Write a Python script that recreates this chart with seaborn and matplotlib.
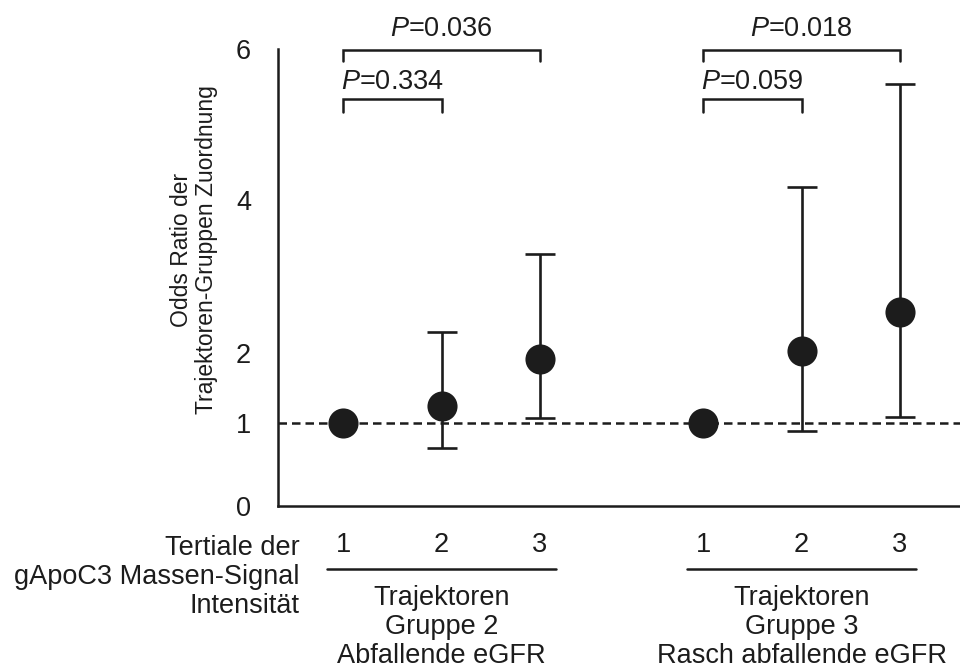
import numpy as np
import pandas as pd
import matplotlib
matplotlib.use("Agg")
import matplotlib.pyplot as plt
import matplotlib.transforms as mtransforms
import seaborn as sns

# Odds ratios (95% CI) of trajectory-group membership per tertile of gApoC3 mass signal
tertiles = ["1", "2", "3"]
group_labels = ["Trajektoren\nGruppe 2\nAbfallende eGFR",
                "Trajektoren\nGruppe 3\nRasch abfallende eGFR"]
or_g2 = [1.0, 1.25, 1.92]
lo_g2 = [np.nan, 0.70, 1.07]
hi_g2 = [np.nan, 2.28, 3.29]
or_g3 = [1.0, 2.03, 2.54]
lo_g3 = [np.nan, 0.90, 1.09]
hi_g3 = [np.nan, 4.17, 5.54]
# p-values: tertile 2 vs 1, tertile 3 vs 1
p_g2 = ["0.334", "0.036"]
p_g3 = ["0.059", "0.018"]
y_ticks = [0, 1, 2, 4, 6]

ink = "#1c1c1c"
fs = 19.5

sns.set_style("white")
plt.rcParams["font.family"] = ["Liberation Sans", "DejaVu Sans"]
plt.rcParams["mathtext.fontset"] = "custom"
plt.rcParams["mathtext.rm"] = "Liberation Sans"
plt.rcParams["mathtext.it"] = "Liberation Sans:italic"
plt.rcParams["text.color"] = ink

# piecewise-linear vertical axis (0-1 segment stretched)
kv = np.array([0, 1, 2, 4, 6], float)
kp = np.array([0, 83, 153, 306, 457], float)


def _pw(v, a, b):
    v = np.asarray(v, float)
    out = np.interp(v, a, b)
    s_hi = (b[-1] - b[-2]) / (a[-1] - a[-2])
    s_lo = (b[1] - b[0]) / (a[1] - a[0])
    out = np.where(v > a[-1], b[-1] + (v - a[-1]) * s_hi, out)
    out = np.where(v < a[0], b[0] + (v - a[0]) * s_lo, out)
    return out


def fwd(v):
    return _pw(v, kv, kp)


def inv(p):
    return _pw(p, kp, kv)


fig = plt.figure(figsize=(9.6, 6.69), dpi=100)
ax = fig.add_axes([278 / 960, (669 - 506) / 669, 682 / 960, 457 / 669])

offsets = [0.0, 3.655]
rows = []
for g, (off, ors, los, his) in enumerate(zip(offsets, [or_g2, or_g3], [lo_g2, lo_g3], [hi_g2, hi_g3])):
    for i, t in enumerate(tertiles):
        rows.append({"group": g, "tertile": t, "x": off + i,
                     "OR": ors[i], "lo": los[i], "hi": his[i]})
df = pd.DataFrame(rows)

ax.set_yscale("function", functions=(fwd, inv))
ax.set_ylim(0, 6)
ax.set_xlim(-0.66, 6.264)

ax.axhline(1, color=ink, lw=1.8, ls=(0, (3.4, 2.0)), zorder=1)

ci = df.dropna(subset=["lo", "hi"])
ax.errorbar(ci["x"], ci["OR"], yerr=[ci["OR"] - ci["lo"], ci["hi"] - ci["OR"]],
            fmt="none", ecolor=ink, elinewidth=1.9, capsize=11, capthick=1.9, zorder=2)
sns.scatterplot(data=df, x="x", y="OR", s=470, color=ink, edgecolor=ink,
                linewidth=0, zorder=4, legend=False, ax=ax)

ax.set_yticks(y_ticks)
ax.set_yticklabels([str(t) for t in y_ticks])
ax.set_xticks(df["x"])
ax.set_xticklabels(df["tertile"])
ax.set_xlabel("")
ax.set_ylabel("")
ax.tick_params(axis="y", length=11.5, width=1.7, pad=8, labelsize=fs, colors=ink)
ax.tick_params(axis="x", length=0, pad=18.5, labelsize=fs, colors=ink)

for side in ["top", "right"]:
    ax.spines[side].set_visible(False)
for side in ["left", "bottom"]:
    ax.spines[side].set_linewidth(1.8)
    ax.spines[side].set_color(ink)
ax.spines["left"].set_bounds(0, 6)

trans = mtransforms.blended_transform_factory(ax.transData, ax.transAxes)

# significance brackets
for off, pv in zip(offsets, [p_g2, p_g3]):
    for (x1, yt, yd, yl, p) in [(off + 1, 0.890, 0.863, 0.928, pv[0]),
                                (off + 2, 0.998, 0.974, 1.044, pv[1])]:
        ax.plot([off, off, x1, x1], [yd, yt, yt, yd], color=ink, lw=1.8,
                transform=trans, clip_on=False, solid_joinstyle="miter")
        ax.text((off + x1) / 2, yl, "$P$=" + p, transform=trans,
                ha="center", va="center", fontsize=fs)

# group underlines and labels
for off, lab in zip(offsets, group_labels):
    ax.plot([off - 0.16, off + 2.16], [-0.138, -0.138], color=ink, lw=1.8,
            transform=trans, clip_on=False)
    ax.text(off + 1, (506 - 627) / 457, lab, transform=trans, ha="center",
            va="center", multialignment="center", fontsize=fs, linespacing=1.17)

fig.text(300 / 960, 1 - 577 / 669, "Tertiale der\ngApoC3 Massen-Signal\nIntensität",
         ha="right", va="center", multialignment="right", fontsize=fs, linespacing=1.17)

fig.text(194 / 960, 1 - 250 / 669, "Odds Ratio der\nTrajektoren-Gruppen Zuordnung",
         rotation=90, ha="center", va="center", multialignment="center", fontsize=16.5,
         linespacing=1.15)

fig.savefig("out.png", dpi=100)
